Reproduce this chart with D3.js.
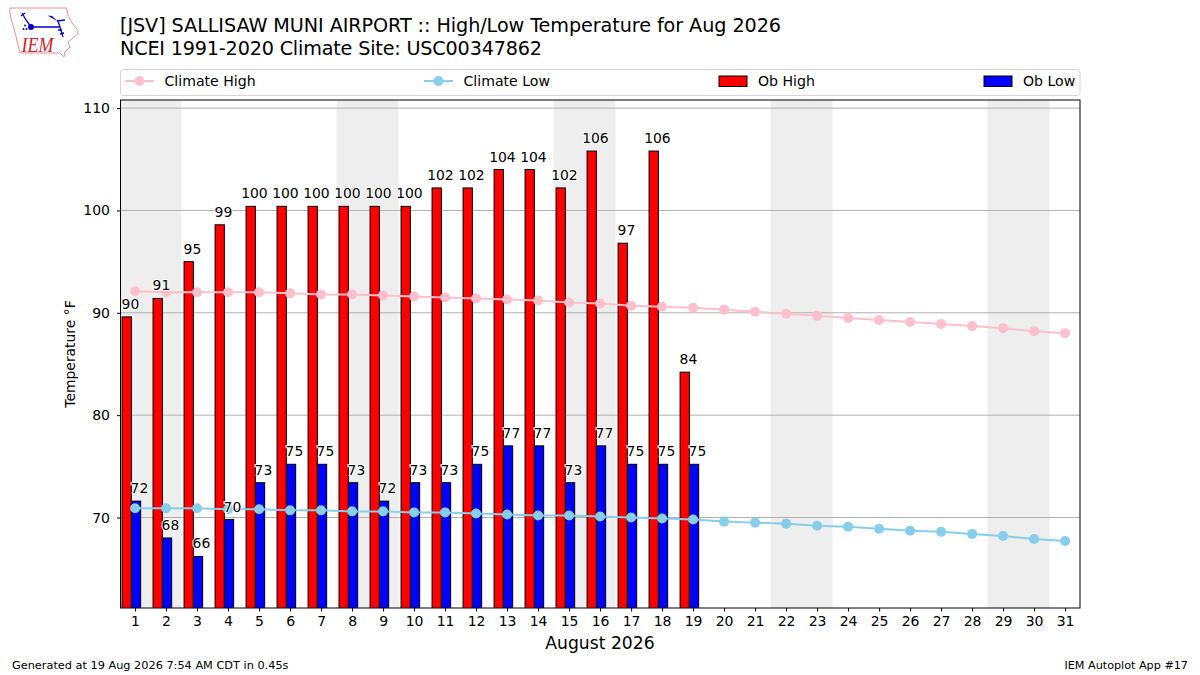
<!DOCTYPE html>
<html><head>
<meta charset="utf-8">
<title>JSV High/Low Temperature</title>
<script src="https://d3js.org/d3.v7.min.js"></script>
<style>
  html, body { margin: 0; padding: 0; background: #fff; }
  svg { display: block; }
  text { font-family: "DejaVu Sans", sans-serif; fill: #000; }
  .tick text { font-size: 14px; }
  .halo { paint-order: stroke; stroke: #fff; stroke-width: 2px; font-size: 13.9px; text-anchor: middle; }
</style>
</head>
<body>
<svg id="chart" width="1200" height="675"></svg>
<script>

// Values, one per day of the month
const days = d3.range(1, 32);
const obHigh = [89.6, 91.4, 95, 98.6, 100.4, 100.4, 100.4, 100.4, 100.4, 100.4, 102.2, 102.2, 104, 104, 102.2, 105.8, 96.8, 105.8, 84.2];
const obLow = [71.6, 68, 66.2, 69.8, 73.4, 75.2, 75.2, 73.4, 71.6, 73.4, 73.4, 75.2, 77, 77, 73.4, 77, 75.2, 75.2, 75.2];
const highLabels = [90, 91, 95, 99, 100, 100, 100, 100, 100, 100, 102, 102, 104, 104, 102, 106, 97, 106, 84];
const lowLabels = [72, 68, 66, 70, 73, 75, 75, 73, 72, 73, 73, 75, 77, 77, 73, 77, 75, 75, 75];
const climateHigh = [92.1, 92.0, 92.0, 92.0, 92.0, 91.9, 91.8, 91.8, 91.7, 91.6, 91.5, 91.4, 91.3, 91.2, 91.0, 90.9, 90.7, 90.6, 90.5, 90.3, 90.1, 89.9, 89.7, 89.5, 89.3, 89.1, 88.9, 88.7, 88.5, 88.2, 88.0];
const climateLow = [70.9, 70.9, 70.9, 70.8, 70.8, 70.7, 70.7, 70.6, 70.6, 70.5, 70.5, 70.4, 70.3, 70.2, 70.2, 70.1, 70.0, 69.9, 69.8, 69.6, 69.5, 69.4, 69.2, 69.1, 68.9, 68.7, 68.6, 68.4, 68.2, 67.9, 67.7];
const weekends = [1, 8, 15, 22, 29];
const yTicks = [70, 80, 90, 100, 110];

const svg = d3.select("#chart");
const left = 120.5, right = 1080, top_ = 100, bottom = 608;

const x = d3.scaleLinear().domain([0.53, 31.48]).range([left, right]);
const y = d3.scaleLinear().domain([61.16, 110.79]).range([bottom, top_]);
const barW = x(1.3) - x(1);

svg.append("defs").append("clipPath").attr("id", "plot")
  .append("rect").attr("x", left).attr("y", top_).attr("width", right - left).attr("height", bottom - top_);

// Titles
svg.append("text").attr("x", 120).attr("y", 32).attr("textLength", 661).style("font-size", "19.2px")
  .text("[JSV] SALLISAW MUNI AIRPORT :: High/Low Temperature for Aug 2026");
svg.append("text").attr("x", 120).attr("y", 55).attr("textLength", 422).style("font-size", "19.2px")
  .text("NCEI 1991-2020 Climate Site: USC00347862");

// IEM logo, hand traced
const logo = svg.append("g");
logo.append("path")
  .attr("d", "M10,8 L66.5,8 L68,15 L72,23 L78,30 L77.7,34 L72,39 L68,42 L70,47 L65,52 L64,57 L60,53 L20,53 L18,45 L15,32 L12,22 L10,14 Z")
  .attr("fill", "#fff").attr("stroke", "#ee8f94").attr("stroke-width", 1);
logo.append("path")
  .attr("d", "M31,27 L60,27 M57,21 L65,20 M22,13 L26,20 L31,27 M21,16 L25,13 M58,21 L60,27 L63,37 M58,30 L62,30 M60,34 L64,33")
  .attr("fill", "none").attr("stroke", "#0000c8").attr("stroke-width", 1.3);
logo.append("path").attr("d", "M47.5,15.5 L52,16 L58,21.5 Z").attr("fill", "#0000c8");
logo.append("circle").attr("cx", 31).attr("cy", 27).attr("r", 3).attr("fill", "#0000c8");
logo.selectAll("circle.dot").data([[25, 25.5], [23.5, 29], [26.5, 29]]).enter().append("circle")
  .attr("class", "dot").attr("cx", d => d[0]).attr("cy", d => d[1]).attr("r", 1).attr("fill", "#0000c8");
logo.append("text").attr("x", 21.5).attr("y", 51.5).attr("textLength", 32).attr("lengthAdjust", "spacingAndGlyphs")
  .style("fill", "#d42027").style("font-family", "'Liberation Serif', serif").style("font-style", "italic").style("font-size", "22px")
  .text("IEM");

// Weekend shading
const plot = svg.append("g").attr("clip-path", "url(#plot)");
plot.selectAll("rect.weekend").data(weekends).enter().append("rect")
  .attr("class", "weekend")
  .attr("x", d => x(d - 0.5))
  .attr("width", d => x(d + 1.5) - x(d - 0.5))
  .attr("y", top_).attr("height", bottom - top_)
  .attr("fill", "#eeeeee");

// Grid
plot.selectAll("line.grid").data(yTicks).enter().append("line")
  .attr("class", "grid")
  .attr("x1", left).attr("x2", right)
  .attr("y1", d => y(d)).attr("y2", d => y(d))
  .attr("stroke", "#b0b0b0").attr("stroke-width", 1);

// Bars
plot.selectAll("rect.high").data(obHigh).enter().append("rect")
  .attr("class", "high")
  .attr("x", (d, i) => x(days[i] - 0.42))
  .attr("width", barW)
  .attr("y", d => y(d))
  .attr("height", d => bottom - y(d) + 2)
  .attr("fill", "#ff0000").attr("stroke", "#000").attr("stroke-width", 1);
plot.selectAll("rect.low").data(obLow).enter().append("rect")
  .attr("class", "low")
  .attr("x", (d, i) => x(days[i] - 0.12))
  .attr("width", barW)
  .attr("y", d => y(d))
  .attr("height", d => bottom - y(d) + 2)
  .attr("fill", "#0000ff").attr("stroke", "#000").attr("stroke-width", 1);

// Climate lines
function drawClimate(values, color) {
  const line = d3.line().x((d, i) => x(days[i])).y(d => y(d));
  plot.append("path").datum(values).attr("d", line)
    .attr("fill", "none").attr("stroke", color).attr("stroke-width", 2);
  plot.selectAll("circle." + color).data(values).enter().append("circle")
    .attr("class", color)
    .attr("cx", (d, i) => x(days[i]))
    .attr("cy", d => y(d))
    .attr("r", 5)
    .attr("fill", color);
}
drawClimate(climateHigh, "pink");
drawClimate(climateLow, "skyblue");

// Value labels
svg.selectAll("text.hl").data(highLabels).enter().append("text")
  .attr("class", "hl halo")
  .attr("x", (d, i) => x(days[i] - 0.15))
  .attr("y", (d, i) => y(obHigh[i]) - 8)
  .text(d => d);
svg.selectAll("text.ll").data(lowLabels).enter().append("text")
  .attr("class", "ll halo")
  .attr("x", (d, i) => x(days[i] + 0.14))
  .attr("y", (d, i) => y(obLow[i]) - 8)
  .text(d => d);

// Axes
const xAxis = d3.axisBottom(x).tickValues(days).tickFormat(d3.format("d")).tickSizeOuter(0).tickSize(3.5).tickPadding(5);
const yAxis = d3.axisLeft(y).tickValues(yTicks).tickSizeOuter(0).tickSize(3.5).tickPadding(7);
svg.append("g").attr("transform", `translate(0,${bottom})`).call(xAxis).call(g => g.select(".domain").remove());
svg.append("g").attr("transform", `translate(${left},0)`).call(yAxis).call(g => g.select(".domain").remove());
svg.append("rect").attr("x", left).attr("y", top_).attr("width", right - left).attr("height", bottom - top_)
  .attr("fill", "none").attr("stroke", "#000").attr("stroke-width", 1);

svg.append("text").attr("x", 600).attr("y", 649).attr("text-anchor", "middle").style("font-size", "17.2px").text("August 2026");
svg.append("text").attr("transform", "translate(75,354) rotate(-90)").attr("text-anchor", "middle").style("font-size", "13.9px").text("Temperature °F");

// Legend
svg.append("rect").attr("x", 120.5).attr("y", 69.5).attr("width", 959.5).attr("height", 26).attr("rx", 3)
  .attr("fill", "#fff").attr("stroke", "#d5d5d5").attr("stroke-width", 1);
const legendLines = [["Climate High", "pink", 125], ["Climate Low", "skyblue", 424]];
const legendBars = [["Ob High", "#ff0000", 719], ["Ob Low", "#0000ff", 984]];
legendLines.forEach(d => {
  svg.append("line").attr("x1", d[2]).attr("x2", d[2] + 29).attr("y1", 81).attr("y2", 81).attr("stroke", d[1]).attr("stroke-width", 2);
  svg.append("circle").attr("cx", d[2] + 14.5).attr("cy", 81).attr("r", 5).attr("fill", d[1]);
  svg.append("text").attr("x", d[2] + 39.5).attr("y", 86).style("font-size", "14.1px").text(d[0]);
});
legendBars.forEach(d => {
  svg.append("rect").attr("x", d[2]).attr("y", 76).attr("width", 28).attr("height", 10.5).attr("fill", d[1]).attr("stroke", "#000").attr("stroke-width", 1);
  svg.append("text").attr("x", d[2] + 39).attr("y", 86).style("font-size", "14.1px").text(d[0]);
});

// Footer
svg.append("text").attr("x", 12).attr("y", 669).style("font-size", "11.3px").text("Generated at 19 Aug 2026 7:54 AM CDT in 0.45s");
svg.append("text").attr("x", 1188).attr("y", 669).attr("text-anchor", "end").style("font-size", "11.2px").text("IEM Autoplot App #17");

</script>
</body>
</html>
